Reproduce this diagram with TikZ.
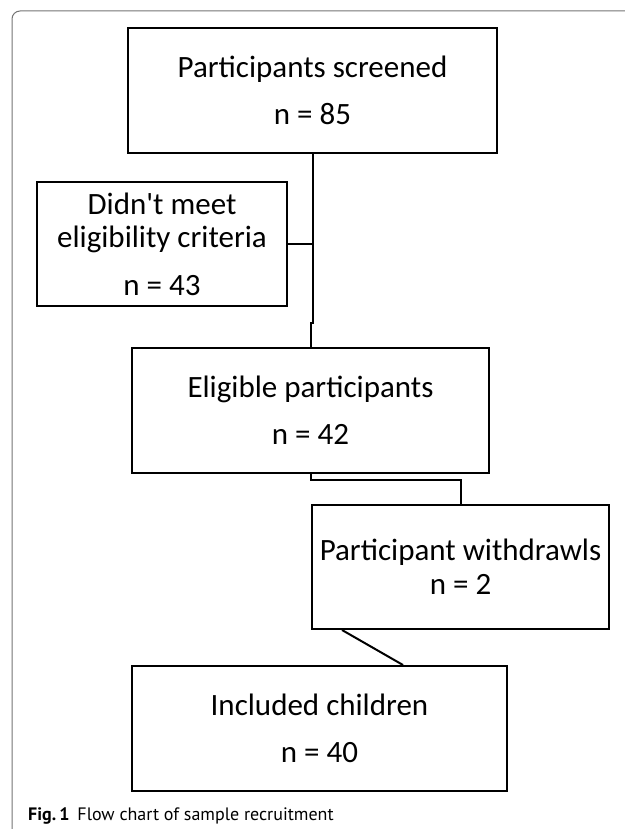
\documentclass[tikz,border=0pt]{standalone}
\usepackage{fontspec}
\setmainfont{Carlito}
\newfontfamily\capfont{PT Sans}
\usepackage{tikz}
\usetikzlibrary{
	positioning,
	calc
}
\usepackage{xcolor}

\begin{document}
\begin{tikzpicture}[x=1pt,y=-1pt,
		box/.style={draw,line width=2pt,align=center,inner sep=0pt,
			font=\fontsize{31}{47}\selectfont},
		link/.style={line width=2pt}]
		
		\useasboundingbox (0,0) rectangle (624,829);
		
		% frame
		\draw[black!55,line width=1pt,rounded corners=8pt] (12,11) rectangle (650,845);
		
		% screening
		\node[box,minimum width=369pt,minimum height=125pt] (screened) at (312.5,90.5)
		{Participants screened\\n = 85};
		
		% excluded
		\node[box,minimum width=250pt,minimum height=124pt,
			font=\fontsize{31}{33}\selectfont] (excluded) at (162,244)
		{Didn\textquotesingle t meet\\eligibility criteria\\[15pt]n = 43};
		
		% eligible
		\node[box,minimum width=357pt,minimum height=125pt] (eligible) at (310.5,410.5)
		{Eligible participants\\n = 42};
		
		% withdrawn
		\node[box,minimum width=297pt,minimum height=124pt,
			font=\fontsize{31}{34}\selectfont] (withdrawn) at (460.5,567)
		{Participant withdrawls\\n = 2};
		
		% included
		\node[box,minimum width=375pt,minimum height=125pt] (included) at (319.5,728.5)
		{Included children\\n = 40};
		
		\draw[link] (screened.south) -- ++(0,169) -| (eligible.north);
		\draw[link] (excluded.east) -- (excluded.east -| screened.south);
		\draw[link] (eligible.south) -- ++(0,6) -| (withdrawn.north);
		\draw[link] ([xshift=31pt]withdrawn.south west) -- ([xshift=83.5pt]included.north);
		
		% caption
		\node[anchor=base west,inner sep=0pt,font=\capfont\fontsize{18}{20}\selectfont] (caption) at (28,820)
		{\textbf{Fig.\,1}\hspace{8pt}Flow chart of sample recruitment};
		
\end{tikzpicture}
\end{document}
